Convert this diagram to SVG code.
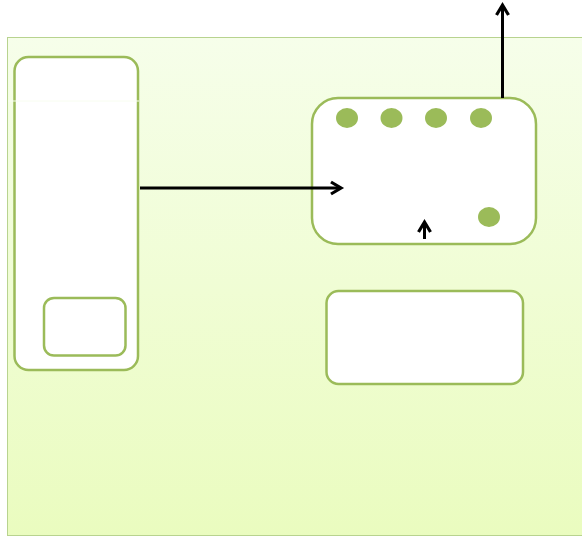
<svg xmlns="http://www.w3.org/2000/svg" width="582" height="536" viewBox="0 0 582 536">
<style>
.node{fill:#ffffff;stroke:#9bbb59;stroke-width:2.5}
.dot{fill:#9bbb59}
.conn{fill:none;stroke:#000000;stroke-width:3}
</style>
<defs>
<linearGradient id="bg" x1="0" y1="0" x2="0" y2="1">
<stop offset="0" stop-color="#f6feea"/>
<stop offset="1" stop-color="#eafcbf"/>
</linearGradient>
<marker id="arr" markerUnits="userSpaceOnUse" markerWidth="16" markerHeight="18" refX="12" refY="8" orient="auto" viewBox="0 0 16 16">
<path d="M2,2 L12,8 L2,14" fill="none" stroke="#000" stroke-width="3.2" stroke-linejoin="miter"/>
</marker>
</defs>
<rect id="background" x="7.5" y="37.5" width="575" height="498" fill="url(#bg)" stroke="#b8d38f" stroke-width="1"/>
<g id="left-container">
<rect class="node" x="14.5" y="57" width="123.5" height="313" rx="14"/>
<line x1="8" y1="101" x2="139" y2="101" stroke="#f8fdf0" stroke-width="1"/>
</g>
<g id="inner-box">
<rect class="node" x="44" y="298" width="81.5" height="57.5" rx="10"/>
</g>
<g id="right-container">
<rect class="node" x="312" y="98" width="224" height="146" rx="26"/>
</g>
<g id="dots">
<ellipse class="dot" cx="347" cy="118" rx="11" ry="10"/>
<ellipse class="dot" cx="391.5" cy="118" rx="11" ry="10"/>
<ellipse class="dot" cx="436" cy="118" rx="11" ry="10"/>
<ellipse class="dot" cx="481" cy="118" rx="11" ry="10"/>
<ellipse class="dot" cx="489" cy="217" rx="11" ry="10"/>
</g>
<g id="lower-box">
<rect class="node" x="326.5" y="291" width="196.5" height="93" rx="12"/>
</g>
<g id="connectors">
<line class="conn" x1="140" y1="188" x2="341" y2="188" marker-end="url(#arr)"/>
<line class="conn" x1="424.5" y1="239" x2="424.5" y2="222" marker-end="url(#arr)"/>
<line class="conn" x1="502.5" y1="98" x2="502.5" y2="5" marker-end="url(#arr)"/>
</g>
</svg>
